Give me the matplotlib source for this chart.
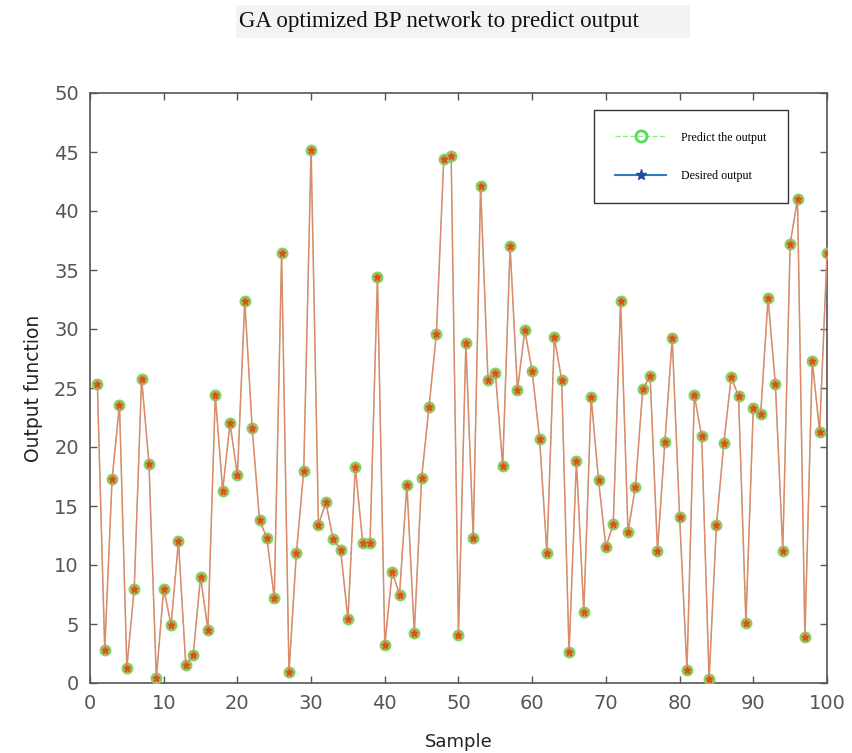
import matplotlib
matplotlib.use("Agg")
import matplotlib.pyplot as plt
from matplotlib.lines import Line2D
from matplotlib.patches import Rectangle

samples = list(range(1, 101))
desired_output = [
    25.3, 2.8, 17.3, 23.6, 1.3, 8.0, 25.8, 18.6, 0.4, 8.0,
    4.9, 12.0, 1.5, 2.4, 9.0, 4.5, 24.4, 16.3, 22.0, 17.6,
    32.4, 21.6, 13.8, 12.3, 7.2, 36.4, 0.9, 11.0, 18.0, 45.2,
    13.4, 15.3, 12.2, 11.3, 5.4, 18.3, 11.9, 11.9, 34.4, 3.2,
    9.4, 7.5, 16.8, 4.2, 17.4, 23.4, 29.6, 44.4, 44.7, 4.1,
    28.8, 12.3, 42.1, 25.7, 26.3, 18.4, 37.0, 24.8, 29.9, 26.4,
    20.7, 11.0, 29.3, 25.7, 2.6, 18.8, 6.0, 24.2, 17.2, 11.5,
    13.5, 32.4, 12.8, 16.6, 24.9, 26.0, 11.2, 20.4, 29.2, 14.1,
    1.1, 24.4, 20.9, 0.3, 13.4, 20.3, 25.9, 24.3, 5.1, 23.3,
    22.8, 32.6, 25.3, 11.2, 37.2, 41.0, 3.9, 27.3, 21.3, 36.4,
]
predicted_output = list(desired_output)

x_ticks = [0, 10, 20, 30, 40, 50, 60, 70, 80, 90, 100]
y_ticks = [0, 5, 10, 15, 20, 25, 30, 35, 40, 45, 50]

W, H = 853, 753
fig = plt.figure(figsize=(W / 100, H / 100), dpi=100)
ax = fig.add_axes([90 / W, 1 - 683 / H, 737 / W, 590 / H])

# predicted: green dashed line with circles
ax.plot(samples, predicted_output, linestyle='--', color='#8ee08e', lw=0.8,
        marker='o', markersize=7.5, markerfacecolor='#c7a24e',
        markeredgecolor='#7cd86a', markeredgewidth=1.1, zorder=3)
# desired: line with star markers
ax.plot(samples, desired_output, linestyle='-', color='#dc8a6c', lw=1.1,
        marker='*', markersize=5, markerfacecolor='#d0561a',
        markeredgecolor='#d0561a', zorder=4)

ax.set_xlim(0, 100)
ax.set_ylim(0, 50)
ax.set_xticks(x_ticks)
ax.set_yticks(y_ticks)
ax.tick_params(direction='in', top=True, right=True, length=5, width=1,
               colors='#555555', labelsize=14, pad=8)
for s in ax.spines.values():
    s.set_color('#555555')
    s.set_linewidth(1.2)

ax.set_xlabel('Sample', fontsize=13, color='#222222', labelpad=14)
ax.set_ylabel('Output function', fontsize=13.5, color='#222222', labelpad=8)

# title with light background band
fig.patches.append(Rectangle((236 / W, 1 - 38 / H), (690 - 236) / W, 33 / H,
                             transform=fig.transFigure, facecolor='#f3f3f5',
                             edgecolor='none', zorder=0))
fig.text(239 / W, 1 - 21 / H, 'GA optimized BP network to predict output',
         ha='left', va='center', fontsize=16.5, family='Liberation Serif',
         color='#111111', zorder=1)

handles = [
    Line2D([], [], linestyle='--', color='#8ee88e', lw=1, marker='o',
           markersize=8, markerfacecolor='none', markeredgecolor='#55dd55',
           markeredgewidth=2),
    Line2D([], [], linestyle='-', color='#2f7fc0', lw=1.5, marker='*',
           markersize=8, markerfacecolor='#1f4fa0', markeredgecolor='#1f4fa0'),
]
leg = ax.legend(handles, ['Predict the output', 'Desired output'],
                loc='upper right',
                bbox_to_anchor=((788 - 90) / 737, (683 - 110) / 590),
                prop={'family': 'Liberation Serif', 'size': 8.6},
                fancybox=False, edgecolor='#333333', framealpha=1,
                borderpad=1.8, labelspacing=2.2, handlelength=4.2,
                handletextpad=1.3, borderaxespad=0)
leg.get_frame().set_linewidth(1.0)

fig.savefig('out.png', dpi=100)
